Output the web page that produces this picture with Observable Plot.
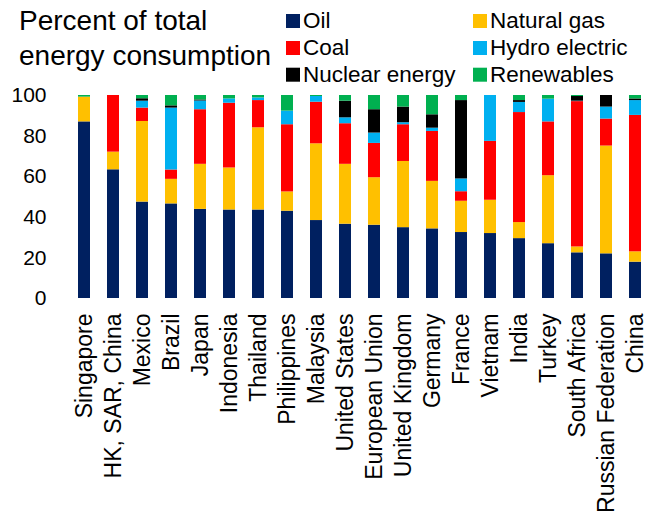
<!DOCTYPE html>
<html>
<head>
<meta charset="utf-8">
<script src="https://cdn.jsdelivr.net/npm/d3@7"></script>
<script src="https://cdn.jsdelivr.net/npm/@observablehq/plot@0.6"></script>
<style>
  html, body { margin: 0; padding: 0; background: #fff; }
  #chart { width: 652px; height: 516px; }
</style>
</head>
<body>
<div id="chart"></div>
<script>
// Share of total energy consumption by source, percent
const countries = [
  "Singapore", "HK, SAR, China", "Mexico", "Brazil", "Japan", "Indonesia",
  "Thailand", "Philippines", "Malaysia", "United States", "European Union",
  "United Kingdom", "Germany", "France", "Vietnam", "India", "Turkey",
  "South Africa", "Russian Federation", "China"
];

const oil        = [87.0, 63.4, 47.5, 46.6, 43.9, 43.6, 43.6, 43.0, 38.4, 36.6, 36.1, 34.9, 34.3, 32.5, 32.0, 29.5, 27.0, 22.5, 22.0, 17.9];
const naturalGas = [12.2,  8.7, 39.7, 12.1, 22.2, 20.7, 40.5,  9.5, 37.8, 29.5, 23.4, 32.6, 23.4, 15.4, 16.4,  7.9, 33.5,  2.9, 53.1,  5.1];
const coal       = [ 0.0, 27.9,  6.6,  4.6, 26.9, 31.9, 13.4, 33.1, 20.5, 20.0, 16.9, 18.1, 24.6,  4.7, 29.0, 54.2, 26.5, 71.6, 13.3, 67.2];
const hydro      = [ 0.0,  0.0,  3.4, 30.5,  4.3,  2.1,  1.3,  6.7,  2.8,  2.9,  5.1,  1.0,  1.6,  6.3, 22.6,  5.0, 11.2,  0.2,  5.9,  7.3];
const nuclear    = [ 0.0,  0.0,  1.2,  1.1,  0.5,  0.0,  0.0,  0.0,  0.0,  8.2, 11.5,  7.7,  6.6, 38.6,  0.0,  0.9,  0.0,  2.3,  5.7,  0.8];
const renewables = [ 0.8,  0.0,  1.6,  5.1,  2.2,  1.7,  1.2,  7.7,  0.5,  2.8,  7.0,  5.7,  9.5,  2.5,  0.0,  2.5,  1.8,  0.5,  0.0,  1.7];

const sources = ["Oil", "Natural gas", "Coal", "Hydro electric", "Nuclear energy", "Renewables"];
const sourceValues = [oil, naturalGas, coal, hydro, nuclear, renewables];
const sourceColors = ["#002060", "#FFC000", "#FF0000", "#00B0F0", "#000000", "#00B050"];
const yTicks = [0, 20, 40, 60, 80, 100];

// Long format, ordered by source so the stack builds Oil at the bottom
const rows = sources.flatMap((source, i) =>
  countries.map((country, j) => ({country, source, value: sourceValues[i][j]}))
);

const fontFamily = "'Liberation Sans', Arial, sans-serif";

const plot = Plot.plot({
  width: 652,
  height: 516,
  marginTop: 95,
  marginBottom: 218,
  marginLeft: 74,
  marginRight: 7,
  style: {fontFamily, fontSize: "21px", color: "#000", background: "#fff", overflow: "visible"},
  x: {domain: countries, paddingInner: 0.6, paddingOuter: 0.1},
  y: {domain: [0, 100]},
  color: {domain: sources, range: sourceColors},
  marks: [
    Plot.barY(rows, {x: "country", y: "value", fill: "source", order: sources}),
    Plot.axisY({ticks: yTicks, tickSize: 0, tickPadding: 28, fontSize: 21, label: null}),
    Plot.axisX({tickRotate: -90, tickSize: 0, tickPadding: 15, fontSize: 23, label: null})
  ]
});

document.getElementById("chart").appendChild(plot);

// Title and legend drawn into the same SVG
const svg = d3.select(plot);
const header = svg.append("g")
  .attr("font-family", fontFamily)
  .attr("text-anchor", "start")
  .attr("fill", "#000");

header.append("text").attr("x", 19).attr("y", 29.5).attr("font-size", 28).text("Percent of total");
header.append("text").attr("x", 19).attr("y", 64.5).attr("font-size", 28).text("energy consumption");

const legendCols = [286, 473];
const legendRows = [28, 55, 81.7];
sources.forEach((source, i) => {
  const col = i % 2, row = Math.floor(i / 2);
  const x = legendCols[col], base = legendRows[row];
  header.append("rect")
    .attr("x", x).attr("y", base - 14).attr("width", 14).attr("height", 14)
    .attr("fill", sourceColors[i]);
  header.append("text")
    .attr("x", x + 17).attr("y", base).attr("font-size", 22.5)
    .text(source);
});
</script>
</body>
</html>
